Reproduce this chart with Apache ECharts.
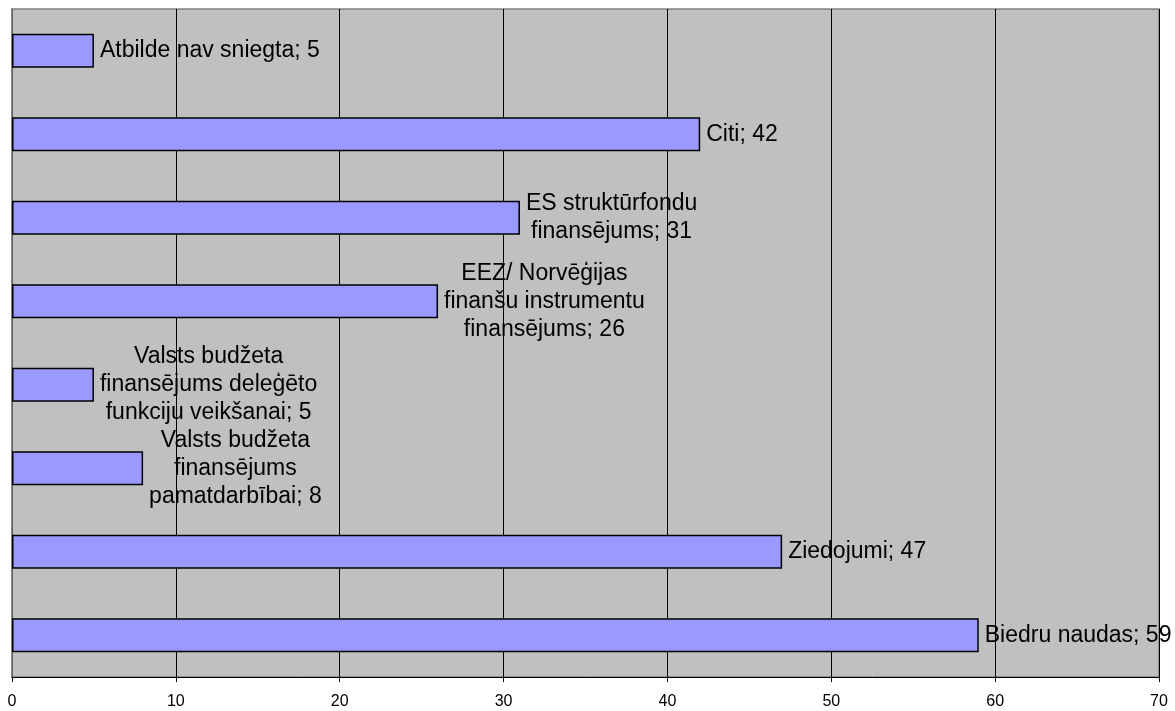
<!DOCTYPE html>
<html>
<head>
<meta charset="utf-8">
<script src="https://cdn.jsdelivr.net/npm/echarts@6/dist/echarts.min.js"></script>
<style>
html,body{margin:0;padding:0;background:#fff;}
#chart{width:1175px;height:711px;}
</style>
</head>
<body>
<div id="chart"></div>
<script>
// Categories bottom-to-top (label lines separated by \n as in the picture)
const categories = [
  "Biedru naudas",
  "Ziedojumi",
  "Valsts budžeta\nfinansējums\npamatdarbībai",
  "Valsts budžeta\nfinansējums deleģēto\nfunkciju veikšanai",
  "EEZ/ Norvēģijas\nfinanšu instrumentu\nfinansējums",
  "ES struktūrfondu\nfinansējums",
  "Citi",
  "Atbilde nav sniegta"
];
const values = [59, 47, 8, 5, 26, 31, 42, 5];
const xTicks = [0, 10, 20, 30, 40, 50, 60, 70];

const chart = echarts.init(document.getElementById('chart'));
chart.setOption({
  backgroundColor: '#ffffff',
  animation: false,
  grid: {
    left: 12, right: 16, top: 9, bottom: 34,
    show: true, backgroundColor: '#C0C0C0', borderColor: '#808080', borderWidth: 1.5
  },
  xAxis: {
    type: 'value',
    min: xTicks[0], max: xTicks[xTicks.length - 1], interval: 10,
    axisLine: { show: true, lineStyle: { color: '#000', width: 1 } },
    axisTick: { show: true, length: 5, lineStyle: { color: '#000' } },
    axisLabel: { color: '#000', fontFamily: 'Liberation Sans, Arial, sans-serif', fontSize: 16, margin: 17 },
    splitLine: { show: true, lineStyle: { color: '#000', width: 1 } }
  },
  yAxis: {
    type: 'category',
    data: categories,
    axisLine: { show: true, lineStyle: { color: '#808080', width: 1.5 } },
    axisTick: { show: false },
    axisLabel: { show: false },
    splitLine: { show: false }
  },
  series: [{
    type: 'bar',
    data: values,
    barWidth: 34,
    itemStyle: { color: '#9999FF', borderColor: '#000', borderWidth: 1.5 },
    label: {
      show: true,
      position: 'right',
      distance: 6,
      fontFamily: 'Liberation Sans, Arial, sans-serif',
      fontSize: 23,
      color: '#000',
      lineHeight: 28,
      formatter: function (p) {
        const txt = p.name + '; ' + p.value;
        return txt.split('\n').map(l => '{c|' + l + '}').join('\n');
      },
      rich: {
        c: { align: 'center', fontSize: 23, lineHeight: 28, color: '#000', fontFamily: 'Liberation Sans, Arial, sans-serif' }
      }
    }
  }]
});
</script>
</body>
</html>
